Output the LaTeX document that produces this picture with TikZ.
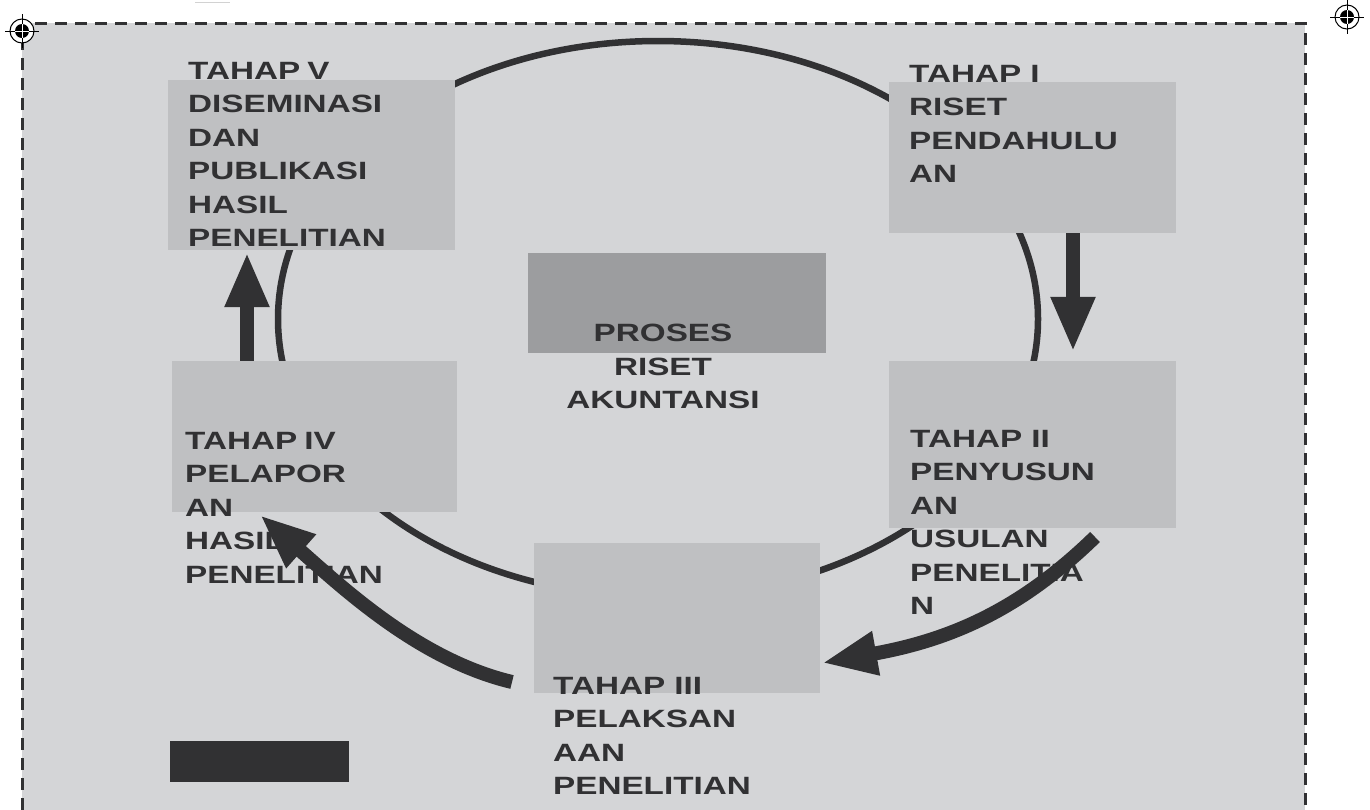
\documentclass[tikz,border=0pt]{standalone}
\usepackage{fontspec}
\newfontfamily\lblfont{Liberation Sans}[FakeStretch=1.33]
\usetikzlibrary{arrows.meta,calc}
\definecolor{paper}{HTML}{D4D5D7}
\definecolor{panel}{HTML}{BFC0C2}
\definecolor{core}{HTML}{9C9D9F}
\definecolor{ink}{HTML}{313133}
\begin{document}
\begin{tikzpicture}[x=1pt,y=-1pt,
  panel/.style={fill=panel, draw=none, inner sep=0pt},
  stagetext/.style={font=\lblfont\bfseries\fontsize{25}{33.5}\selectfont, text=ink, inner sep=0pt, align=left, anchor=north west},
  ring/.style={draw=ink, line width=6.5pt},
  fat/.style={draw=ink, line width=14pt, -{Triangle[length=55pt,width=41pt]}},
  regmark/.pic={
    \fill[white] (0,0) circle[radius=12];
    \draw[black, line width=1pt] (0,0) circle[radius=12];
    \fill[black] (0,0) circle[radius=7];
    \draw[black, line width=0.9pt] (-17,0) -- (17,0) (0,-17) -- (0,17);
    \draw[white, line width=0.9pt] (-7,0) -- (7,0) (0,-7) -- (0,7);
  }
]
\useasboundingbox (0,0) rectangle (1370,809);
\clip (0,0) rectangle (1370,809);
\fill[white] (0,0) rectangle (1370,809);
\draw[gray!35, line width=1pt] (195,2) -- (230,2);

% sheet with dashed trim border
\fill[paper] (22,23) rectangle (1305,830);
\draw[ink, line width=3pt, dash pattern=on 12pt off 8pt] (22,830) -- (22,23) -- (1305,23) -- (1305,830);

% cycle ring behind the stages
\draw[ring] (658,319) ellipse [x radius=380, y radius=278];

% stage panels
\node[panel, minimum width=287pt, minimum height=170pt] (b5) at (311.5,165) {};
\node[panel, minimum width=287pt, minimum height=151pt] (b1) at (1032.5,157.5) {};
\node[panel, minimum width=287pt, minimum height=167pt] (b2) at (1032.5,444.5) {};
\node[panel, minimum width=285pt, minimum height=151pt] (b4) at (314.5,436.5) {};
\node[panel, minimum width=286pt, minimum height=150pt] (b3) at (677,618) {};
\node[fill=core, inner sep=0pt, minimum width=298pt, minimum height=100pt] (bc) at (677,303) {};
\node[fill=ink, inner sep=0pt, minimum width=179pt, minimum height=41pt] (bar) at (259.5,761.5) {};

% stage labels
\node[stagetext] (t5) at (188,62) {TAHAP\kern-2pt{} V\\DISEMINASI\\DAN\\PUBLIKASI\\HASIL\\PENELITIAN};
\node[stagetext] (t1) at (909,65) {TAHAP I\\RISET\\PENDAHULU\\AN};
\node[stagetext] (t2) at (910,430) {TAHAP II\\PENYUSUN\\AN\\USULAN\\PENELITIA\\N};
\node[stagetext] (t4) at (185,432) {TAHAP\kern-2pt{} IV\\PELAPOR\\AN\\HASIL\\PENELITIAN};
\node[stagetext] (t3) at (553,677) {TAHAP III\\PELAKSAN\\AAN\\PENELITIAN};
\node[stagetext, anchor=north, align=center] (tc) at (663,324) {PROSES\\RISET\\AKUNTANSI};

% flow arrows between stages
\coordinate (a1x) at (1073,0);
\coordinate (a4x) at (247,0);
\draw[fat, shorten >=9pt] (b1.south -| a1x) -- (b2.north -| a1x);
\draw[fat, shorten >=2pt] (b4.north -| a4x) -- (b5.south -| a4x);

\coordinate (s23) at (1095,537);
\coordinate (e23) at (822,663);
\draw[fat] (s23) .. controls (1020,610) and (950,640) .. (e23);

\coordinate (s34) at (512,682);
\coordinate (e34) at (260,515);
\draw[fat] (s34) .. controls (420,660) and (345,590) .. (e34);

% registration marks
\pic at (22,31) {regmark};
\pic at (1347,17) {regmark};
\end{tikzpicture}
\end{document}
